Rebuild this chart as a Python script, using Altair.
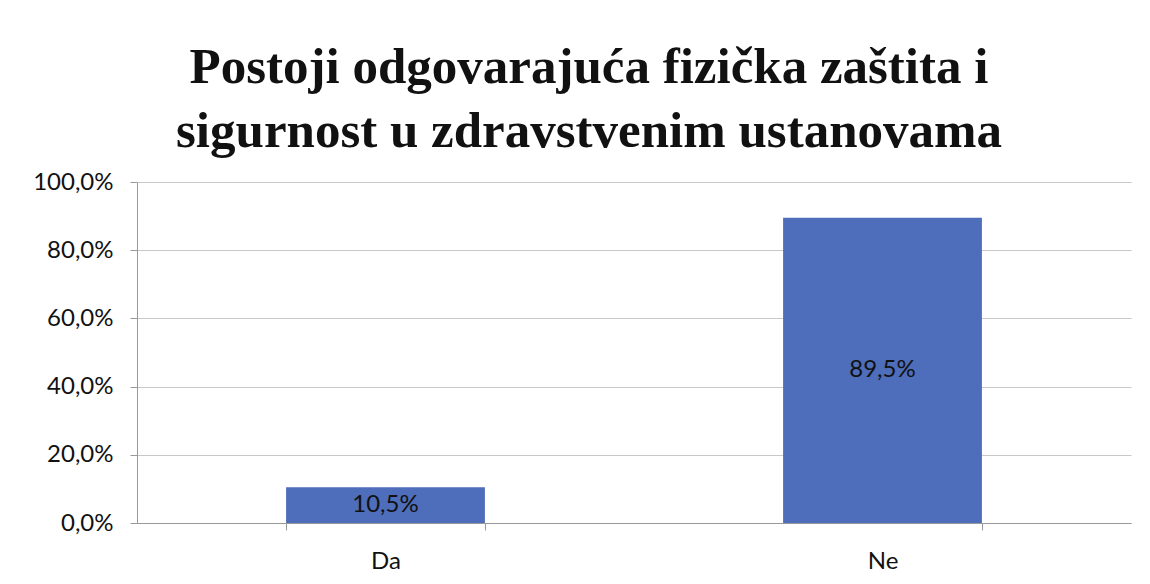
import altair as alt
import pandas as pd

categories = ["Da", "Ne"]
values = [0.105, 0.895]
title_lines = ["Postoji odgovarajuća fizička zaštita i", "sigurnost u zdravstvenim ustanovama"]
y_ticks = [0.0, 0.2, 0.4, 0.6, 0.8, 1.0]

df = pd.DataFrame({"cat": categories, "v": values})

base = alt.Chart(df)

x_axis = alt.Axis(title=None, labelAngle=0, tickBand="extent",
                  labelFont="Lato", labelFontSize=24, labelColor="#111",
                  labelPadding=19, tickSize=7, tickColor="#999",
                  domainColor="#999", grid=False)
y_axis = alt.Axis(title=None, values=y_ticks,
                  labelExpr="replace(format(datum.value, '.1%'), '.', ',')",
                  labelFont="Lato", labelFontSize=24, labelColor="#111",
                  labelPadding=17, tickSize=7, tickColor="#999",
                  domainColor="#999", gridColor="#c8c8c8", gridWidth=1.2)

bars = base.mark_bar(color="#4e6dba").encode(
    x=alt.X("cat:N", sort=categories,
            scale=alt.Scale(paddingInner=0.6, paddingOuter=0.3), axis=x_axis),
    y=alt.Y("v:Q", scale=alt.Scale(domain=[0, 1], nice=False), axis=y_axis),
)

labels = base.mark_text(font="Lato", fontSize=24, color="#111", baseline="middle").encode(
    x=alt.X("cat:N", sort=categories, axis=x_axis),
    y=alt.Y("mid:Q", axis=y_axis),
    text=alt.Text("lbl:N"),
).transform_calculate(
    mid="datum.v / 2",
    lbl="replace(format(datum.v, '.1%'), '.', ',')",
)

chart = alt.layer(bars, labels).properties(
    width=994,
    height=341,
    background="white",
    view=alt.ViewBackground(stroke=None, strokeWidth=0),
    title=alt.TitleParams(text=title_lines, font="Liberation Serif", fontSize=51,
                          fontWeight="bold", color="#111", anchor="middle",
                          dx=-45, offset=12, lineHeight=64),
    autosize=alt.AutoSizeParams(type="none"),
    padding={"left": 129, "top": 174, "right": 11, "bottom": 53},
).configure_view(stroke=None, strokeWidth=0)

chart.save("out.html", embed_options={"renderer": "svg", "actions": False})
